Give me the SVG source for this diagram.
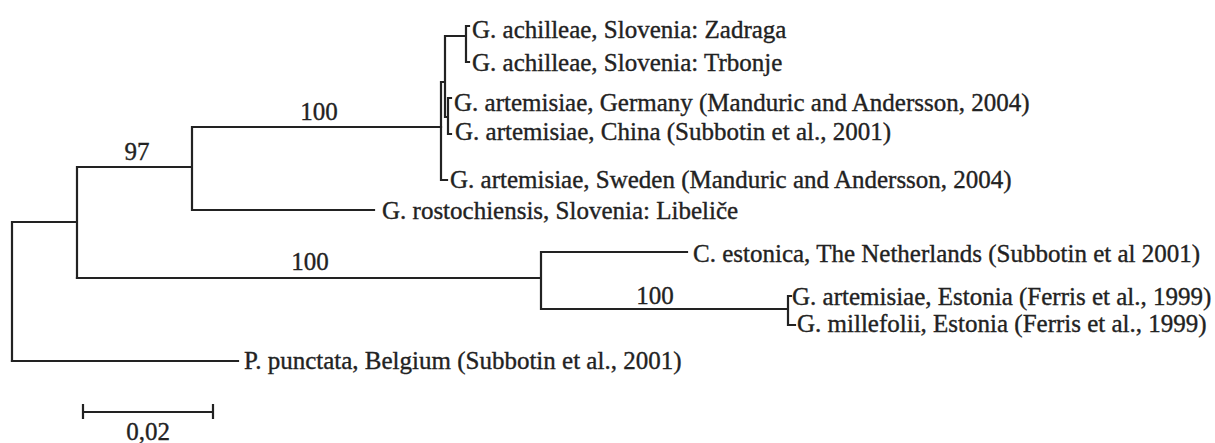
<svg xmlns="http://www.w3.org/2000/svg" width="1215" height="443" viewBox="0 0 1215 443">
<style>
.b{stroke:#222;stroke-width:2.2;fill:none;stroke-linecap:square}
text{font-family:"Liberation Serif","Times New Roman",serif;font-size:25px;fill:#222;stroke:#222;stroke-width:0.35}
.s{text-anchor:middle}
</style>
<rect width="1215" height="443" fill="#fff"/>
<g id="connectors" class="b">
<path d="M12,222V361M12,222H77M77,167V278M77,167H192M192,127V210M192,127H441M192,210H374"/>
<path d="M441,82V180H447M441,82H445M445,36V117M445,36H466M466,26V62M466,26H469M466,62H469M445,117H448M448,98V134M448,98H451M448,134H451"/>
<path d="M77,278H541M541,252V309M541,252H687M541,309H788M788,296V325M788,296H791M788,325H795"/>
<path d="M12,361H238"/>
<path d="M83,412H213M83,405V418M213,405V418"/>
</g>
<g id="labels">
<text class="s" x="137" y="160">97</text>
<text class="s" x="319" y="120">100</text>
<text class="s" x="310" y="270">100</text>
<text class="s" x="655" y="304">100</text>
</g>
<g id="n1"><text x="472" y="38">G. achilleae, Slovenia: Zadraga</text></g>
<g id="n2"><text x="472" y="71">G. achilleae, Slovenia: Trbonje</text></g>
<g id="n3"><text x="454" y="111">G. artemisiae, Germany (Manduric and Andersson, 2004)</text></g>
<g id="n4"><text x="455" y="140">G. artemisiae, China (Subbotin et al., 2001)</text></g>
<g id="n5"><text x="450" y="188">G. artemisiae, Sweden (Manduric and Andersson, 2004)</text></g>
<g id="n6"><text x="382" y="219">G. rostochiensis, Slovenia: Libeliče</text></g>
<g id="n7"><text x="693" y="262">C. estonica, The Netherlands (Subbotin et al 2001)</text></g>
<g id="n8"><text x="792" y="305">G. artemisiae, Estonia (Ferris et al., 1999)</text></g>
<g id="n9"><text x="797" y="332">G. millefolii, Estonia (Ferris et al., 1999)</text></g>
<g id="n10"><text x="244" y="369">P. punctata, Belgium (Subbotin et al., 2001)</text></g>
<g id="scale"><text class="s" x="148" y="440">0,02</text></g>
</svg>
